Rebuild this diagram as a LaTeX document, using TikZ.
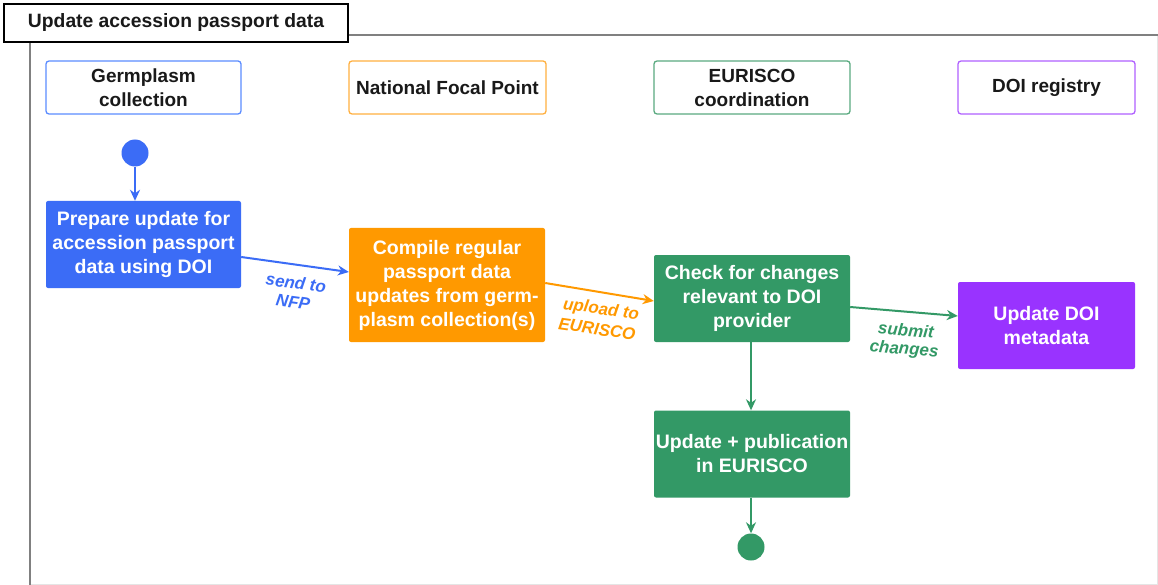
\documentclass[tikz,border=0pt]{standalone}
\usepackage{fontspec}
\setmainfont{Liberation Sans}
\usetikzlibrary{arrows.meta}
\definecolor{cblue}{HTML}{3B6CF6}
\definecolor{corange}{HTML}{FF9900}
\definecolor{cgreen}{HTML}{339966}
\definecolor{cpurple}{HTML}{9933FF}
\definecolor{hblue}{HTML}{5B8CFF}
\definecolor{horange}{HTML}{FFB040}
\definecolor{hgreen}{HTML}{5AAA80}
\definecolor{hpurple}{HTML}{B060FF}
\tikzset{
  lane/.style={draw=#1, line width=1.3pt, rounded corners=3pt, fill=white, minimum height=53pt, align=center, font=\fontsize{19}{24}\selectfont\bfseries, text=black!90, inner sep=1pt},
  act/.style={fill=#1, draw=none, rounded corners=2pt, align=center, text=white, font=\fontsize{19.5}{24}\selectfont\bfseries, minimum height=87pt, inner sep=1pt},
  dot/.style={circle, fill=#1, minimum size=27pt, inner sep=0pt},
  flow/.style={draw=#1, line width=2pt, -{Stealth[length=11pt,width=10pt]}},
  elabel/.style={text=#1, font=\fontsize{17}{18}\selectfont\bfseries\itshape, inner sep=0pt}
}
\begin{document}
\begin{tikzpicture}[x=1pt,y=-1pt]
\useasboundingbox (0,0) rectangle (1158,585);
\fill[white] (0,0) rectangle (1158,585);
% frame
\draw[black!10, line width=0.8pt] (1157,35) -- (1157,584) -- (30,584);
\draw[black!50, line width=1.3pt] (347,35) -- (1158,35);
\draw[black!50, line width=1.8pt] (30,41) -- (30,585);
\node[draw=black, line width=2pt, fill=white, minimum width=344pt, minimum height=38pt, anchor=north west, inner sep=0pt, font=\fontsize{19.3}{20}\selectfont\bfseries, text=black!90] (title) at (3,3) {Update accession passport data};
% lanes
\node[lane=hblue, minimum width=195pt] (l1) at (143.5,87.5) {Germplasm\\collection};
\node[lane=horange, minimum width=197pt] (l2) at (447.5,87.5) {National Focal Point};
\node[lane=hgreen, minimum width=196pt] (l3) at (752,87.5) {EURISCO\\coordination};
\node[lane=hpurple, minimum width=177pt] (l4) at (1046.5,87.5) {DOI registry};
% activities
\node[dot=cblue] (start) at (135,153) {};
\node[act=cblue, minimum width=195pt] (prep) at (143.5,244.5) {Prepare update for\\accession passport\\data using DOI};
\node[act=corange, minimum width=196pt, minimum height=114pt] (comp) at (447,285) {Compile regular\\passport data\\updates from germ-\\plasm collection(s)};
\node[act=cgreen, minimum width=196pt] (check) at (752,298.5) {Check for changes\\relevant to DOI\\provider};
\node[act=cpurple, minimum width=177pt] (doi) at (1046.5,325.5) {Update DOI\\metadata};
\node[act=cgreen, minimum width=196pt] (pub) at (752,454) {Update + publication\\in EURISCO};
\node[dot=cgreen] (end) at (751,547) {};
% connectors
\draw[flow=cblue] (start) -- (prep.north -| start);
\draw[flow=cblue] (prep.east |- 0,257) -- (comp.west |- 0,272);
\draw[flow=corange] (comp.east |- 0,283) -- (check.west |- 0,301);
\draw[flow=cgreen] (check.east |- 0,307) -- (doi.west |- 0,316);
\draw[flow=cgreen] (check.south -| end) -- (pub.north -| end);
\draw[flow=cgreen] (pub.south -| end) -- (end);
% labels
\node[elabel=cblue, rotate=-8] (lab1a) at (296,283) {send to};
\node[elabel=cblue, rotate=-8] (lab1b) at (293,302) {NFP};
\node[elabel=corange, rotate=-8] (lab2a) at (601,310) {upload to};
\node[elabel=corange, rotate=-8] (lab2b) at (597,329) {EURISCO};
\node[elabel=cgreen, rotate=-5] (lab3a) at (906,330) {submit};
\node[elabel=cgreen, rotate=-5] (lab3b) at (904,350) {changes};
\end{tikzpicture}
\end{document}
